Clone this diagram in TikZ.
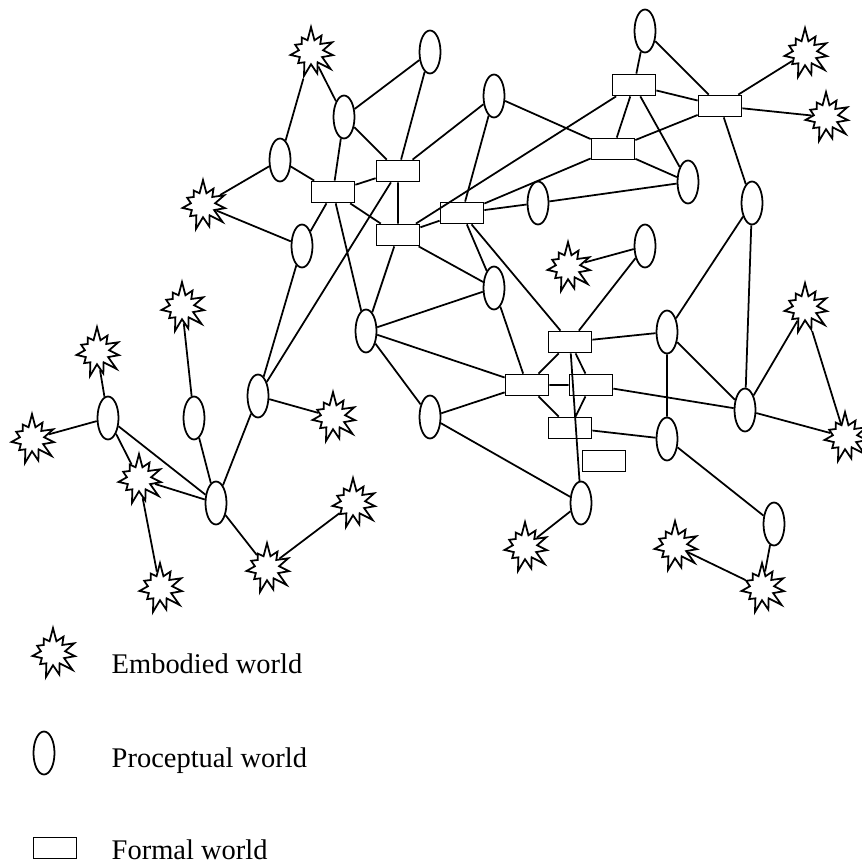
\documentclass[tikz,border=0pt]{standalone}
\usepackage{fontspec}
\setmainfont{Liberation Serif}
\usepackage{tikz}
\usetikzlibrary{shapes.geometric, shapes.symbols}

\tikzset{
    embodied/.style={draw, starburst, starburst points=11, starburst point height=0.28cm,
        random starburst=7, minimum width=1.05cm, minimum height=1.05cm, inner sep=0pt},
    proceptual/.style={draw, ellipse, minimum width=0.42cm, minimum height=0.86cm, inner sep=0pt},
    formal/.style={draw, rectangle, minimum width=0.86cm, minimum height=0.42cm, inner sep=0pt},
    legendtext/.style={anchor=base west, font=\fontsize{16.2}{19}\selectfont}
}

\begin{document}
\begin{tikzpicture}[x=0.02cm, y=-0.02cm, line width=1pt]
    \useasboundingbox (0,0) rectangle (861,864);

    % Embodied world
    \node[embodied] (e1) at (311,52) {};
    \node[embodied] (e2) at (203,205) {};
    \node[embodied] (e3) at (805,53) {};
    \node[embodied] (e4) at (826,117) {};
    \node[embodied] (e5) at (568,267) {};
    \node[embodied] (e6) at (182,307) {};
    \node[embodied] (e7) at (97,352) {};
    \node[embodied] (e8) at (32,439) {};
    \node[embodied] (e9) at (333,417) {};
    \node[embodied] (e10) at (139,479) {};
    \node[embodied] (e11) at (353,503) {};
    \node[embodied] (e12) at (267,568) {};
    \node[embodied] (e13) at (160,588) {};
    \node[embodied] (e14) at (805,308) {};
    \node[embodied] (e15) at (845,437) {};
    \node[embodied] (e16) at (525,547) {};
    \node[embodied] (e17) at (675,546) {};
    \node[embodied] (e18) at (762,588) {};

    % Proceptual world
    \node[proceptual] (p1) at (430,52) {};
    \node[proceptual] (p2) at (344,117) {};
    \node[proceptual] (p3) at (280,160) {};
    \node[proceptual] (p4) at (302,246) {};
    \node[proceptual] (p5) at (645,31) {};
    \node[proceptual] (p6) at (494,96) {};
    \node[proceptual] (p7) at (688,182) {};
    \node[proceptual] (p8) at (538,203) {};
    \node[proceptual] (p9) at (752,203) {};
    \node[proceptual] (p10) at (645,246) {};
    \node[proceptual] (p11) at (494,288) {};
    \node[proceptual] (p12) at (108,418) {};
    \node[proceptual] (p13) at (194,418) {};
    \node[proceptual] (p14) at (258,396) {};
    \node[proceptual] (p15) at (216,503) {};
    \node[proceptual] (p16) at (366,331) {};
    \node[proceptual] (p17) at (430,417) {};
    \node[proceptual] (p18) at (667,332) {};
    \node[proceptual] (p19) at (667,439) {};
    \node[proceptual] (p20) at (745,410) {};
    \node[proceptual] (p21) at (581,503) {};
    \node[proceptual] (p22) at (774,524) {};

    % Formal world
    \node[formal] (f1) at (333,192) {};
    \node[formal] (f2) at (398,171) {};
    \node[formal] (f3) at (398,235) {};
    \node[formal] (f4) at (462,213) {};
    \node[formal] (f5) at (634,85) {};
    \node[formal] (f6) at (720,106) {};
    \node[formal] (f7) at (613,149) {};
    \node[formal] (f8) at (570,342) {};
    \node[formal] (f9) at (527,385) {};
    \node[formal] (f10) at (591,385) {};
    \node[formal] (f11) at (570,428) {};
    \node[formal] (f12) at (604,461) {};

    % Links, upper left
    \draw (e1) -- (p3) (e1) -- (p2) (p2) -- (p1) (p1) -- (f2) (p2) -- (f2) (p2) -- (f1);
    \draw (f1) -- (f2) (p3) -- (f1) (p3) -- (e2) (e2) -- (p4) (f1) -- (p4) (f1) -- (f3);
    \draw (f2) -- (f3) (f2) -- (p6) (f3) -- (f4) (f3) -- (p11) (f3) -- (f5);
    \draw (p4) -- (p14) (f2) -- (p14) (f1) -- (p16) (f3) -- (p16);
    % Links, upper right
    \draw (p5) -- (f5) (p5) -- (f6) (f5) -- (f6) (f6) -- (e3) (f6) -- (e4);
    \draw (f5) -- (f7) (f5) -- (p7) (f7) -- (f6) (f7) -- (p7) (p6) -- (f7) (f4) -- (f7);
    \draw (p6) -- (f4) (f4) -- (p8) (p8) -- (p7) (f6) -- (p9) (p9) -- (p18) (p9) -- (p20);
    \draw (e5) -- (p10) (p10) -- (f8) (f4) -- (p11) (f4) -- (f8) (p16) -- (p11);
    % Links, lower left
    \draw (e6) -- (p13) (e7) -- (p12) (e8) -- (p12) (p12) -- (e10) (p12) -- (p15);
    \draw (e10) -- (p15) (e10) -- (e13) (p13) -- (p15) (p14) -- (p15) (p14) -- (e9);
    \draw (p15) -- (e12) (e12) -- (e11) (p16) -- (p17) (p16) -- (f9) (p17) -- (f9) (p17) -- (p21);
    % Links, lower right
    \draw (p11) -- (f9) (f8) -- (p18) (f8) -- (f9) (f8) -- (f10) (f8) -- (p21);
    \draw (f9) -- (f10) (f9) -- (f11) (f10) -- (f11) (f10) -- (p20) (f11) -- (p19);
    \draw (p18) -- (p19) (p18) -- (p20) (p20) -- (e14) (e14) -- (e15) (p20) -- (e15);
    \draw (p19) -- (p22) (p22) -- (e18) (e17) -- (e18) (p21) -- (e16);

    % Legend
    \node[embodied] (le) at (53,653) {};
    \node[proceptual] (lp) at (44,753) {};
    \node[formal] (lf) at (55,848) {};
    \node[legendtext] (te) at (105,673) {Embodied world};
    \node[legendtext] (tp) at (105,767) {Proceptual world};
    \node[legendtext] (tf) at (105,859) {Formal world};
\end{tikzpicture}
\end{document}
